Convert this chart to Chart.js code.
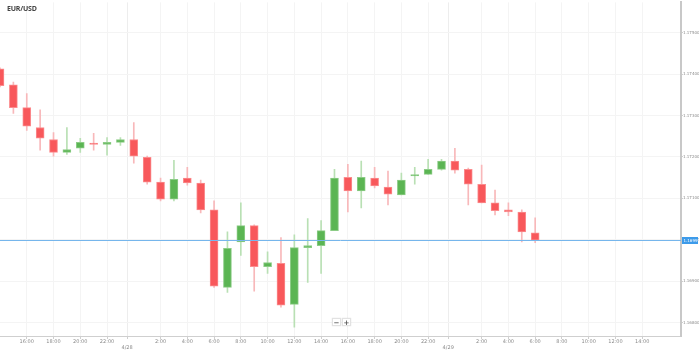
<!DOCTYPE html>
<html>
<head>
<meta charset="utf-8">
<script src="https://cdn.jsdelivr.net/npm/chart.js@4/dist/chart.umd.min.js"></script>
<style>
  html, body { margin: 0; padding: 0; background: #fff; }
  #wrap { position: relative; width: 699px; height: 350px; overflow: hidden; }
  #title { position: absolute; left: 7px; top: 4px; font: bold 7px "Open Sans", "DejaVu Sans", sans-serif; color: #444; letter-spacing: -0.2px; }
  #zoom { position: absolute; left: 332px; top: 318px; display: flex; gap: 1px; }
  #zoom span { display: block; width: 7px; height: 6px; line-height: 6px; text-align: center; font: bold 7px "DejaVu Sans", sans-serif; color: #555; background: #fff; border: 1px solid #e2e2e2; box-shadow: 0 0 1px rgba(0,0,0,0.15); }
</style>
</head>
<body>
<div id="wrap">
  <canvas id="c" width="699" height="350"></canvas>
  <div id="title">EUR/USD</div>
  <div id="zoom"><span>−</span><span>+</span></div>
</div>
<script>
// Hourly EUR/USD candles; hour is counted from 4/27 00:00
const hours  = [14,15,16,17,18,19,20,21,22,23,24,25,26,27,28,29,30,31,32,33,34,35,36,37,38,39,40,41,42,43,44,45,46,47,48,49,50,51,52,53,54];
const opens  = [1.17413,1.17374,1.17319,1.17271,1.17242,1.17211,1.17221,1.17233,1.17230,1.17235,1.17242,1.17199,1.17139,1.17098,1.17149,1.17137,1.17072,1.16885,1.16995,1.17034,1.16935,1.16943,1.16844,1.16981,1.16986,1.17022,1.17151,1.17118,1.17149,1.17127,1.17108,1.17154,1.17158,1.17170,1.17190,1.17170,1.17134,1.17089,1.17072,1.17067,1.17017];
const highs  = [1.17415,1.17381,1.17353,1.17314,1.17259,1.17271,1.17245,1.17257,1.17247,1.17247,1.17283,1.17202,1.17149,1.17192,1.17175,1.17144,1.17094,1.17019,1.17089,1.17036,1.16971,1.17005,1.17012,1.17051,1.17046,1.17170,1.17182,1.17190,1.17175,1.17166,1.17161,1.17175,1.17194,1.17194,1.17221,1.17173,1.17180,1.17120,1.17089,1.17072,1.17053];
const lows   = [1.17369,1.17305,1.17264,1.17216,1.17202,1.17206,1.17211,1.17216,1.17204,1.17228,1.17185,1.17134,1.17094,1.17094,1.17132,1.17065,1.16885,1.16873,1.16962,1.16876,1.16919,1.16837,1.16789,1.16897,1.16919,1.17022,1.17067,1.17077,1.17125,1.17084,1.17108,1.17134,1.17158,1.17168,1.17161,1.17084,1.17089,1.17060,1.17058,1.16995,1.16993];
const closes = [1.17372,1.17319,1.17274,1.17245,1.17211,1.17218,1.17235,1.17230,1.17235,1.17242,1.17202,1.17139,1.17098,1.17146,1.17137,1.17072,1.16888,1.16979,1.17034,1.16935,1.16945,1.16842,1.16981,1.16986,1.17022,1.17149,1.17118,1.17151,1.17130,1.17110,1.17144,1.17156,1.17170,1.17190,1.17168,1.17134,1.17089,1.17070,1.17067,1.17019,1.16999];

// Axis ticks
const xTickHours  = [16,18,20,22,23.5,26,28,30,32,34,36,38,40,42,44,46,47.5,50,52,54,56,58,60,62];
const xTickLabels = ["16:00","18:00","20:00","22:00","4/28","2:00","4:00","6:00","8:00","10:00","12:00","14:00",
                     "16:00","18:00","20:00","22:00","4/29","2:00","4:00","6:00","8:00","10:00","12:00","14:00"];
const dateTicks   = ["4/28","4/29"];
const yTicks      = [1.168,1.169,1.170,1.171,1.172,1.173,1.174,1.175];

const UP = '#5bb553', DOWN = '#f8585b';
const UP_EDGE = '#8ccc86', DOWN_EDGE = '#fb8c8e';
const UP_WICK = '#b9e0b4', DOWN_WICK = '#f8b8ba';

const isUp = hours.map((h, i) => closes[i] >= opens[i]);
const lastClose = closes[closes.length - 1];

const bodyData = hours.map((h, i) => ({ x: h, y: [opens[i], closes[i]] }));
const wickData = hours.map((h, i) => ({ x: h, y: [lows[i], highs[i]] }));

const priceLine = {
  id: 'priceLine',
  afterDraw(chart) {
    const { ctx, chartArea, scales } = chart;
    const y = Math.round(scales.y.getPixelForValue(lastClose)) + 0.5;
    ctx.save();
    ctx.strokeStyle = '#76b6ec';
    ctx.lineWidth = 1;
    ctx.beginPath();
    ctx.moveTo(chartArea.left, y);
    ctx.lineTo(chartArea.right, y);
    ctx.stroke();
    ctx.fillStyle = '#3d9bea';
    ctx.fillRect(chartArea.right + 1, y - 3.5, 16, 7);
    ctx.fillStyle = '#fff';
    ctx.font = '4px "DejaVu Sans", sans-serif';
    ctx.textBaseline = 'middle';
    ctx.textAlign = 'left';
    ctx.fillText(lastClose.toFixed(5), chartArea.right + 2.5, y + 0.5);
    ctx.restore();
  }
};

new Chart(document.getElementById('c'), {
  type: 'bar',
  data: {
    datasets: [
      {
        label: 'body',
        data: bodyData,
        order: 0,
        grouped: false,
        barThickness: 8,
        minBarLength: 1.5,
        backgroundColor: isUp.map(u => u ? UP : DOWN),
        borderColor: isUp.map(u => u ? UP_EDGE : DOWN_EDGE),
        borderWidth: 1,
        borderSkipped: false
      },
      {
        label: 'wick',
        data: wickData,
        order: 1,
        grouped: false,
        barThickness: 1,
        backgroundColor: isUp.map(u => u ? UP_WICK : DOWN_WICK),
        borderWidth: 0
      }
    ]
  },
  options: {
    responsive: false,
    devicePixelRatio: 1,
    animation: false,
    layout: { padding: 0 },
    plugins: { legend: { display: false }, tooltip: { enabled: false } },
    scales: {
      x: {
        type: 'linear',
        offset: false,
        min: 14,
        max: 64.9,
        afterBuildTicks(scale) { scale.ticks = xTickHours.map(v => ({ value: v })); },
        afterFit(scale) { scale.height = 14; },
        border: { display: true, color: '#cfcfcf', width: 1 },
        grid: {
          offset: false,
          color: ctx => (ctx.tick && dateTicks.includes(xTickLabels[ctx.index])) ? '#ededed' : '#f4f4f4',
          lineWidth: 1,
          tickColor: '#cfcfcf',
          tickLength: 3
        },
        ticks: {
          autoSkip: false,
          maxRotation: 0,
          padding: 0,
          color: '#8a8a8a',
          font: { size: 5, family: '"DejaVu Sans", sans-serif', lineHeight: 1.1 },
          callback: (v, i) => dateTicks.includes(xTickLabels[i]) ? ['', xTickLabels[i]] : xTickLabels[i]
        }
      },
      y: {
        position: 'right',
        min: 1.167676,
        max: 1.175731,
        afterBuildTicks(scale) { scale.ticks = yTicks.map(v => ({ value: v })); },
        afterFit(scale) { scale.width = 18; },
        border: { display: true, color: '#c8c8c8', width: 2 },
        grid: { color: '#f4f4f4', tickColor: '#cfcfcf', tickLength: 2 },
        ticks: {
          padding: 0,
          color: '#8a8a8a',
          font: { size: 4, family: '"DejaVu Sans", sans-serif' },
          callback: v => v.toFixed(5)
        }
      }
    }
  },
  plugins: [priceLine]
});
</script>
</body>
</html>
